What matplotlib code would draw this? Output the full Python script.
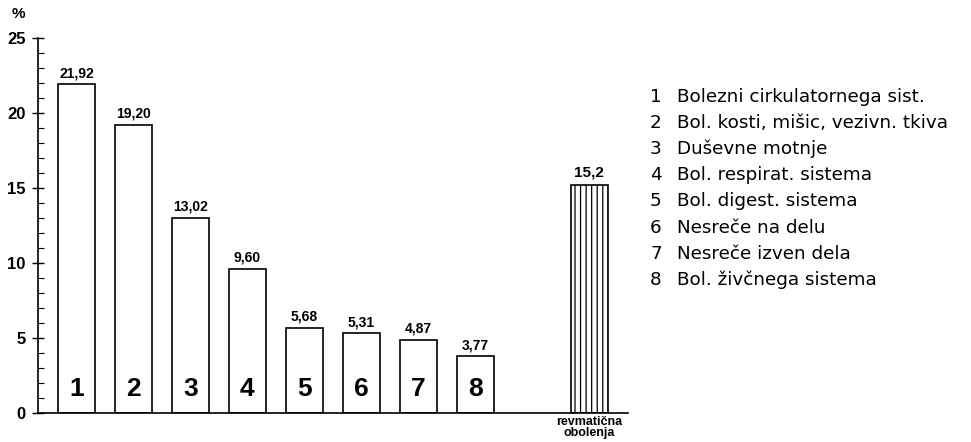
import matplotlib
matplotlib.use("Agg")
import matplotlib.pyplot as plt

plt.rcParams['font.family'] = ['Liberation Sans', 'DejaVu Sans']
plt.rcParams['hatch.linewidth'] = 0.9

positions = [1, 2, 3, 4, 5, 6, 7, 8]
values = [21.92, 19.20, 13.02, 9.60, 5.68, 5.31, 4.87, 3.77]
value_labels = ["21,92", "19,20", "13,02", "9,60", "5,68", "5,31", "4,87", "3,77"]
bar_numbers = ["1", "2", "3", "4", "5", "6", "7", "8"]
legend_items = ["Bolezni cirkulatornega sist.", "Bol. kosti, mišic, vezivn. tkiva",
                "Duševne motnje", "Bol. respirat. sistema", "Bol. digest. sistema",
                "Nesreče na delu", "Nesreče izven dela", "Bol. živčnega sistema"]
rheum_pos = 10
rheum_value = 15.2
rheum_label_value = "15,2"
rheum_label = "revmatična\nobolenja"
yticks = [0, 5, 10, 15, 20, 25]

fig = plt.figure(figsize=(9.71, 4.42), dpi=100)
ax = fig.add_axes([38/971, 29/442, (628-38)/971, (413-38)/442])

ax.bar(positions, values, width=0.65, facecolor='white', edgecolor='black', linewidth=1.2)
ax.bar([rheum_pos], [rheum_value], width=0.65, facecolor='white', edgecolor='black',
       linewidth=1.2, hatch='|||')

for x, v, lab, n in zip(positions, values, value_labels, bar_numbers):
    ax.annotate(lab, (x, v), xytext=(0, 3), textcoords='offset points',
                ha='center', va='bottom', fontsize=10, fontweight='bold')
    ax.text(x, 1.6, n, ha='center', va='center', fontsize=19, fontweight='bold')
ax.annotate(rheum_label_value, (rheum_pos, rheum_value), xytext=(0, 4),
            textcoords='offset points', ha='center', va='bottom', fontsize=11,
            fontweight='bold')
ax.text(rheum_pos, -0.2, rheum_label, ha='center', va='top', fontsize=9,
        fontweight='bold', linespacing=0.85)

ax.set_xlim(0.325, 10.68)
ax.set_ylim(0, 25)
ax.set_yticks(yticks)
ax.set_yticklabels([str(t) for t in yticks], fontsize=12, fontweight='bold')
ax.set_yticks(range(0, 26), minor=True)
ax.tick_params(axis='y', which='major', direction='inout', length=8, width=1, pad=5)
ax.tick_params(axis='y', which='minor', direction='in', length=4, width=0.8)
ax.set_xticks([])
for s in ['top', 'right']:
    ax.spines[s].set_visible(False)
ax.spines['left'].set_linewidth(1.2)
ax.spines['bottom'].set_linewidth(1.2)

fig.text(12/971, 1 - 14/442, "%", fontsize=11, fontweight='bold', va='center', ha='left')

for i, item in enumerate(legend_items):
    y = 1 - (96.7 + i * 26.2) / 442
    fig.text(650/971, y, str(i + 1), fontsize=13.2, va='center', ha='left', family='DejaVu Sans')
    fig.text(677/971, y, item, fontsize=13.2, va='center', ha='left', family='DejaVu Sans')

fig.savefig("out.png", dpi=100)
